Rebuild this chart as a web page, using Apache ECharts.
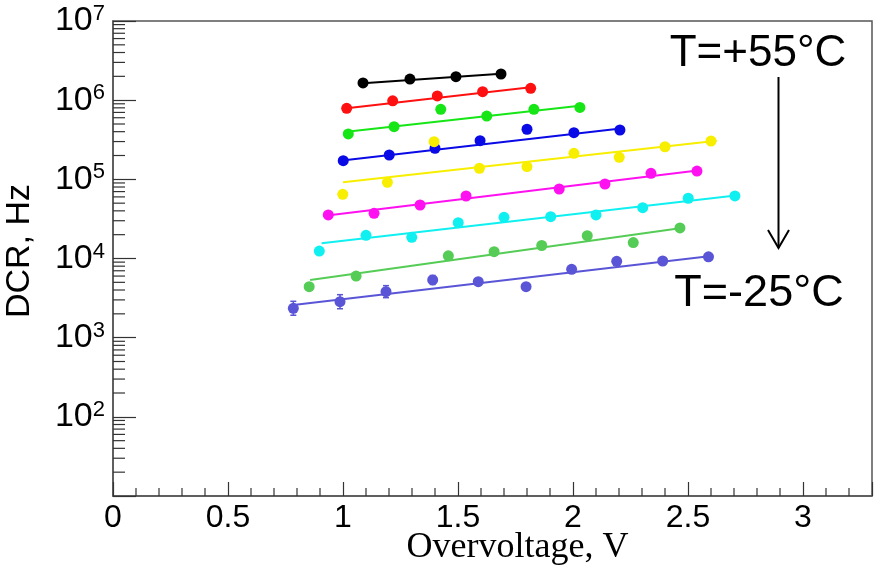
<!DOCTYPE html>
<html>
<head>
<meta charset="utf-8">
<script src="https://cdn.jsdelivr.net/npm/echarts@6/dist/echarts.min.js"></script>
<style>html,body{margin:0;padding:0;background:#fff}#c{width:874px;height:570px}</style>
</head>
<body>
<div id="c"></div>
<script>
// ---- data (Overvoltage V, DCR Hz) ----
const ovBlack = [1.087, 1.291, 1.491, 1.687];
const dcrBlack = [1.65e6, 1.85e6, 1.98e6, 2.14e6];
const fitBlack = [[1.087, 1.63e6], [1.687, 2.15e6]];

const ovRed = [1.016, 1.216, 1.41, 1.607, 1.816];
const dcrRed = [7.9e5, 9.8e5, 1.13e6, 1.28e6, 1.41e6];
const fitRed = [[1.016, 7.9e5], [1.816, 1.46e6]];

const ovGreen = [1.023, 1.222, 1.425, 1.625, 1.83, 2.03];
const dcrGreen = [3.74e5, 4.63e5, 7.67e5, 6.3e5, 7.67e5, 8.1e5];
const fitGreen = [[1.016, 4.0e5], [2.03, 8.5e5]];

const ovBlue = [1.001, 1.201, 1.4, 1.596, 1.80, 2.004, 2.204];
const dcrBlue = [1.72e5, 2.03e5, 2.47e5, 3.08e5, 4.29e5, 3.88e5, 4.2e5];
const fitBlue = [[0.987, 1.72e5], [2.217, 4.41e5]];

const ovYellow = [0.999, 1.193, 1.396, 1.593, 1.8, 2.004, 2.201, 2.4, 2.6];
const dcrYellow = [6.47e4, 9.18e4, 2.99e5, 1.38e5, 1.45e5, 2.13e5, 1.9e5, 2.58e5, 3.05e5];
const fitYellow = [[1.0, 9.2e4], [2.625, 3.07e5]];

const ovMagenta = [0.936, 1.135, 1.335, 1.535, 1.94, 2.139, 2.339, 2.539];
const dcrMagenta = [3.55e4, 3.72e4, 4.74e4, 6.16e4, 7.55e4, 8.73e4, 1.19e5, 1.27e5];
const fitMagenta = [[0.922, 3.47e4], [2.56, 1.31e5]];

const ovCyan = [0.897, 1.1, 1.299, 1.501, 1.7, 1.903, 2.1, 2.303, 2.501, 2.704];
const dcrCyan = [1.24e4, 1.96e4, 1.85e4, 2.83e4, 3.31e4, 3.37e4, 3.55e4, 4.39e4, 5.77e4, 6.17e4];
const fitCyan = [[0.907, 1.56e4], [2.726, 6.34e4]];

const ovLightGreen = [0.853, 1.057, 1.458, 1.657, 1.864, 2.062, 2.262, 2.465];
const dcrLightGreen = [4.4e3, 6.0e3, 1.08e4, 1.22e4, 1.46e4, 1.94e4, 1.59e4, 2.43e4];
const fitLightGreen = [[0.857, 5.36e3], [2.48, 2.45e4]];

const ovSlate = [0.784, 0.987, 1.187, 1.39, 1.588, 1.796, 1.994, 2.19, 2.39, 2.589];
const dcrSlate = [2.35e3, 2.85e3, 3.81e3, 5.36e3, 5.1e3, 4.41e3, 7.31e3, 9.2e3, 9.3e3, 1.05e4];
const errLowSlate = [1.92e3, 2.32e3, 3.2e3, 4.7e3];
const errHighSlate = [2.88e3, 3.49e3, 4.54e3, 6.1e3];
const fitSlate = [[0.784, 2.59e3], [2.61, 1.08e4]];

// axis ticks
const xMajorTicks = [0, 0.5, 1, 1.5, 2, 2.5, 3];
const xMinorTicks = [0.1,0.2,0.3,0.4,0.6,0.7,0.8,0.9,1.1,1.2,1.3,1.4,1.6,1.7,1.8,1.9,2.1,2.2,2.3,2.4,2.6,2.7,2.8,2.9,3.1,3.2];
const yDecades = [10, 100, 1000, 1e4, 1e5, 1e6];
const yMinorMult = [2, 3, 4, 5, 6, 7, 8, 9];
const yLabelExponents = [2, 3, 4, 5, 6, 7];

const groups = [
  {name: 'T55', color: '#000000', ov: ovBlack, dcr: dcrBlack, fit: fitBlack},
  {name: 'T45', color: '#ff1010', ov: ovRed, dcr: dcrRed, fit: fitRed},
  {name: 'T35', color: '#16e616', ov: ovGreen, dcr: dcrGreen, fit: fitGreen},
  {name: 'T25', color: '#0a0ae6', ov: ovBlue, dcr: dcrBlue, fit: fitBlue},
  {name: 'T15', color: '#f8ee00', ov: ovYellow, dcr: dcrYellow, fit: fitYellow},
  {name: 'T5', color: '#ff10f0', ov: ovMagenta, dcr: dcrMagenta, fit: fitMagenta},
  {name: 'T-5', color: '#10f0f0', ov: ovCyan, dcr: dcrCyan, fit: fitCyan},
  {name: 'T-15', color: '#55cc55', ov: ovLightGreen, dcr: dcrLightGreen, fit: fitLightGreen},
  {name: 'T-25', color: '#5a55d6', ov: ovSlate, dcr: dcrSlate, fit: fitSlate}
];

const series = [];
groups.forEach(g => {
  series.push({
    type: 'line', name: g.name + ' fit', data: g.fit, showSymbol: false, silent: true,
    lineStyle: {color: g.color, width: 2}, z: 2
  });
});
groups.forEach(g => {
  series.push({
    type: 'scatter', name: g.name, data: g.ov.map((x, i) => [x, g.dcr[i]]),
    symbol: 'circle', symbolSize: 11, itemStyle: {color: g.color, opacity: 1}, z: 4
  });
});
// error bars for the coldest series
series.push({
  type: 'custom', name: 'err', silent: true, z: 3,
  data: errLowSlate.map((lo, i) => [ovSlate[i], lo, errHighSlate[i]]),
  renderItem: function (params, api) {
    const p1 = api.coord([api.value(0), api.value(1)]);
    const p2 = api.coord([api.value(0), api.value(2)]);
    const st = {stroke: '#5a55d6', lineWidth: 1.5};
    return {type: 'group', children: [
      {type: 'line', shape: {x1: p1[0], y1: p1[1], x2: p2[0], y2: p2[1]}, style: st},
      {type: 'line', shape: {x1: p1[0]-3, y1: p1[1], x2: p1[0]+3, y2: p1[1]}, style: st},
      {type: 'line', shape: {x1: p2[0]-3, y1: p2[1], x2: p2[0]+3, y2: p2[1]}, style: st}
    ]};
  }
});
// minor ticks (axis decoration)
const yMinorVals = [];
yDecades.forEach(d => yMinorMult.forEach(m => yMinorVals.push([0, m * d])));
series.push({
  type: 'custom', name: 'yminor', silent: true, z: 5, clip: false,
  data: yMinorVals,
  renderItem: function (params, api) {
    const p = api.coord([api.value(0), api.value(1)]);
    return {type: 'line', shape: {x1: p[0], y1: p[1], x2: p[0] + 12, y2: p[1]}, style: {stroke: '#333', lineWidth: 1.2}};
  }
});
series.push({
  type: 'custom', name: 'xminor', silent: true, z: 5, clip: false,
  data: xMinorTicks.map(v => [v, 10]),
  renderItem: function (params, api) {
    const p = api.coord([api.value(0), api.value(1)]);
    return {type: 'line', shape: {x1: p[0], y1: p[1], x2: p[0], y2: p[1] - 8}, style: {stroke: '#333', lineWidth: 1.2}};
  }
});

const chart = echarts.init(document.getElementById('c'), null, {renderer: 'canvas'});
chart.setOption({
  animation: false,
  backgroundColor: '#fff',
  grid: {left: 113, right: 2, top: 21, bottom: 74, show: true, borderColor: '#555', borderWidth: 1.5, containLabel: false, outerBoundsMode: 'none'},
  xAxis: {
    type: 'value', min: 0, max: 3.3, interval: 0.5,
    axisLine: {show: true, lineStyle: {color: '#555', width: 1.5}},
    axisTick: {show: true, inside: true, length: 14, lineStyle: {color: '#333', width: 1.2}},
    minorTick: {show: false},
    splitLine: {show: false},
    axisLabel: {
      margin: 6, color: '#000', fontSize: 32, fontFamily: 'Liberation Sans',
      formatter: v => (xMajorTicks.some(t => Math.abs(t - v) < 1e-6) ? String(v) : '')
    },
    name: 'Overvoltage, V', nameLocation: 'middle', nameGap: 34, nameMoveOverlap: false,
    nameTextStyle: {color: '#000', fontSize: 36, fontFamily: 'Liberation Serif', padding: [0, 0, 0, 50]}
  },
  yAxis: {
    type: 'log', logBase: 10, min: 10, max: 1e7,
    axisLine: {show: true, lineStyle: {color: '#555', width: 1.5}},
    axisTick: {show: true, inside: true, length: 23, lineStyle: {color: '#333', width: 1.2}},
    minorTick: {show: false},
    splitLine: {show: false},
    axisLabel: {
      margin: 8, color: '#000',
      formatter: function (v) {
        const e = Math.round(Math.log10(v));
        if (yLabelExponents.indexOf(e) < 0) return '';
        return '{b|10}{s|' + e + '}';
      },
      rich: {
        b: {fontSize: 34, fontFamily: 'Liberation Sans', color: '#000', lineHeight: 36},
        s: {fontSize: 22, fontFamily: 'Liberation Sans', color: '#000', verticalAlign: 'top', lineHeight: 36, padding: [0, 0, 10, 0]}
      }
    },
    name: 'DCR, Hz', nameLocation: 'middle', nameGap: 76, nameRotate: 90, nameMoveOverlap: false,
    nameTextStyle: {color: '#000', fontSize: 34, fontFamily: 'Liberation Sans', padding: [0, 0, 0, 15]}
  },
  graphic: [
    {type: 'text', x: 758, y: 54, style: {text: 'T=+55°C', font: '44px "Liberation Sans"', fill: '#000', textAlign: 'center', textVerticalAlign: 'middle'}},
    {type: 'text', x: 759, y: 294, style: {text: 'T=-25°C', font: '45px "Liberation Sans"', fill: '#000', textAlign: 'center', textVerticalAlign: 'middle'}},
    {type: 'line', shape: {x1: 778.5, y1: 77, x2: 778.5, y2: 248}, style: {stroke: '#000', lineWidth: 2}},
    {type: 'polyline', shape: {points: [[768, 230], [778.5, 248], [789, 230]]}, style: {stroke: '#000', lineWidth: 2, fill: null}}
  ],
  series: series
});
</script>
</body>
</html>
